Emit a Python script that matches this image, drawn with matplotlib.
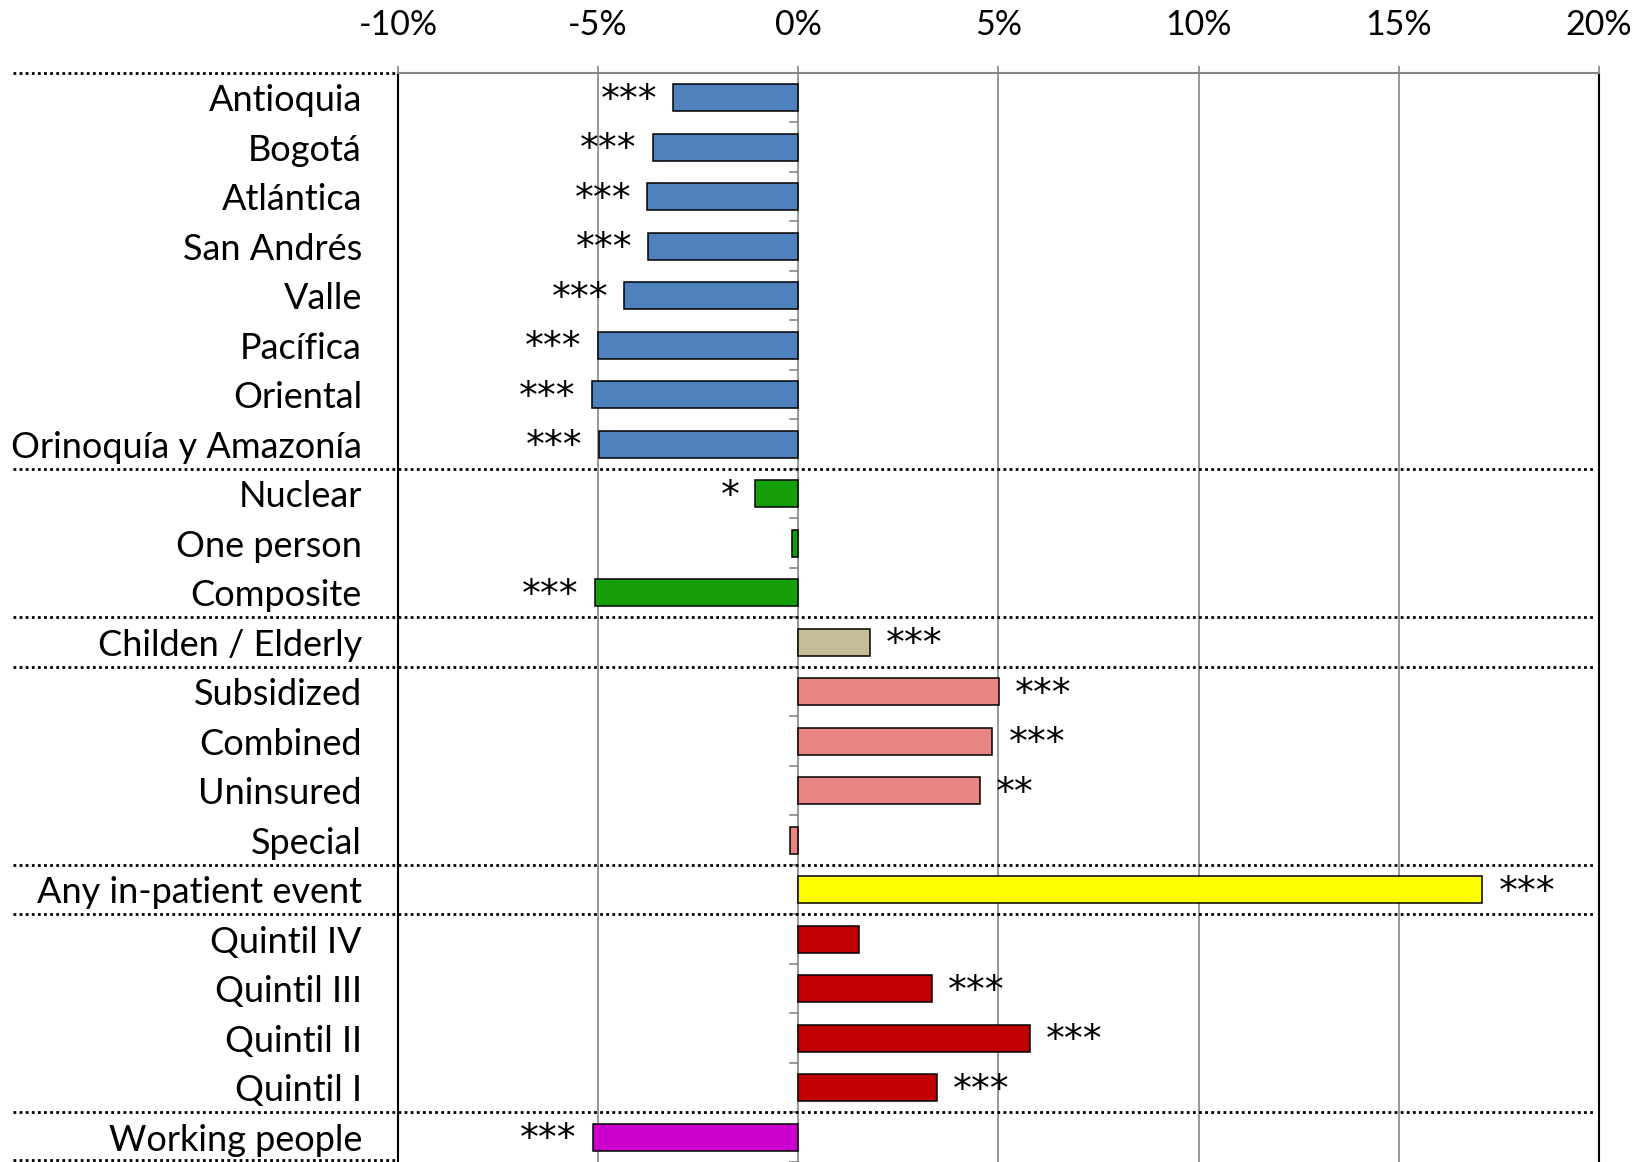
import numpy as np
import matplotlib
matplotlib.use('Agg')
from matplotlib import pyplot as plt
from matplotlib import transforms

categorias = [
  'Antioquia', 'Bogotá', 'Atlántica', 'San Andrés', 'Valle', 'Pacífica',
  'Oriental', 'Orinoquía y Amazonía',
  'Nuclear', 'One person', 'Composite',
  'Childen / Elderly',
  'Subsidized', 'Combined', 'Uninsured', 'Special',
  'Any in-patient event',
  'Quintil IV', 'Quintil III', 'Quintil II', 'Quintil I',
  'Working people',
]
valores = [
  -3.12, -3.64, -3.77, -3.75, -4.35, -5.01, -5.16, -4.98,
  -1.07, -0.16, -5.09,
  1.78,
  5.01, 4.85, 4.53, -0.21,
  17.09,
  1.52, 3.33, 5.79, 3.46,
  -5.14,
]
estrellas = [
  '***', '***', '***', '***', '***', '***', '***', '***',
  '*', '', '***',
  '***',
  '***', '***', '**', '',
  '***',
  '', '***', '***', '***',
  '***',
]
grupos = (['region'] * 8 + ['hogar'] * 3 + ['edad'] + ['seguro'] * 4
          + ['hospital'] + ['quintil'] * 4 + ['trabajo'])
ticks_x = [-10, -5, 0, 5, 10, 15, 20]

COLORES = {
  'region': '#4F81BD',
  'hogar': '#15A00B',
  'edad': '#C4BD97',
  'seguro': '#E88582',
  'hospital': '#FFFF00',
  'quintil': '#C00000',
  'trabajo': '#CC00CC',
}
GRIS = '#868686'

plt.rcParams['font.family'] = ['Lato', 'DejaVu Sans']
fig = plt.figure(figsize=(16.44, 11.62), dpi=100)
ax = fig.add_axes([0.2421, 0.0, 0.7305, 0.9372])

n = len(categorias)
y = np.arange(n)
ax.barh(y, valores, height=0.54, color=[COLORES[g] for g in grupos],
        edgecolor='black', linewidth=1.1, zorder=3)
ax.set_ylim(n - 0.5, -0.5)
ax.set_xlim(-10, 20)

# eje superior
ax.xaxis.tick_top()
ax.set_xticks(ticks_x)
ax.set_xticklabels([f'{t}%' for t in ticks_x], fontsize=24.5)
ax.tick_params(axis='x', length=5, width=1.2, color=GRIS, pad=18)
ax.grid(axis='x', color=GRIS, linewidth=1.2, zorder=0)

ax.set_yticks(y)
ax.set_yticklabels(categorias, fontsize=26)
ax.tick_params(axis='y', length=0, pad=26)

for lado in ('left', 'right'):
  ax.spines[lado].set_color('black')
  ax.spines[lado].set_linewidth(1.5)
ax.spines['top'].set_color(GRIS)
ax.spines['top'].set_linewidth(1.5)
ax.spines['bottom'].set_visible(False)

# marcas del eje de categorias en 0
for b in np.arange(-0.5, n, 1.0):
  ax.plot([-0.22, 0], [b, b], color=GRIS, lw=1.2, zorder=2, clip_on=False)

# estrellas
for i, (v, s) in enumerate(zip(valores, estrellas)):
  if not s:
    continue
  if v < 0:
    ax.text(v - 0.4, i + 0.06, s, ha='right', va='center', fontsize=27,
            family='DejaVu Sans', zorder=4)
  else:
    ax.text(v + 0.4, i + 0.06, s, ha='left', va='center', fontsize=27,
            family='DejaVu Sans', zorder=4)

# separadores punteados
trans = transforms.blended_transform_factory(fig.transFigure, ax.transData)
x_izq = 0.0077
x_eje = 0.2421
x_der = 0.9695
estilo = dict(color='black', lw=2.0, linestyle=(0, (1, 1.2)), transform=trans,
              clip_on=False, zorder=5)
for i in range(1, n):
  if grupos[i] != grupos[i - 1]:
    ax.plot([x_izq, x_der], [i - 0.5, i - 0.5], **estilo)
ax.plot([x_izq, x_eje], [-0.5, -0.5], **estilo)
ax.plot([x_izq, x_eje], [n - 0.55, n - 0.55], **estilo)

fig.savefig('out.png', dpi=100)
